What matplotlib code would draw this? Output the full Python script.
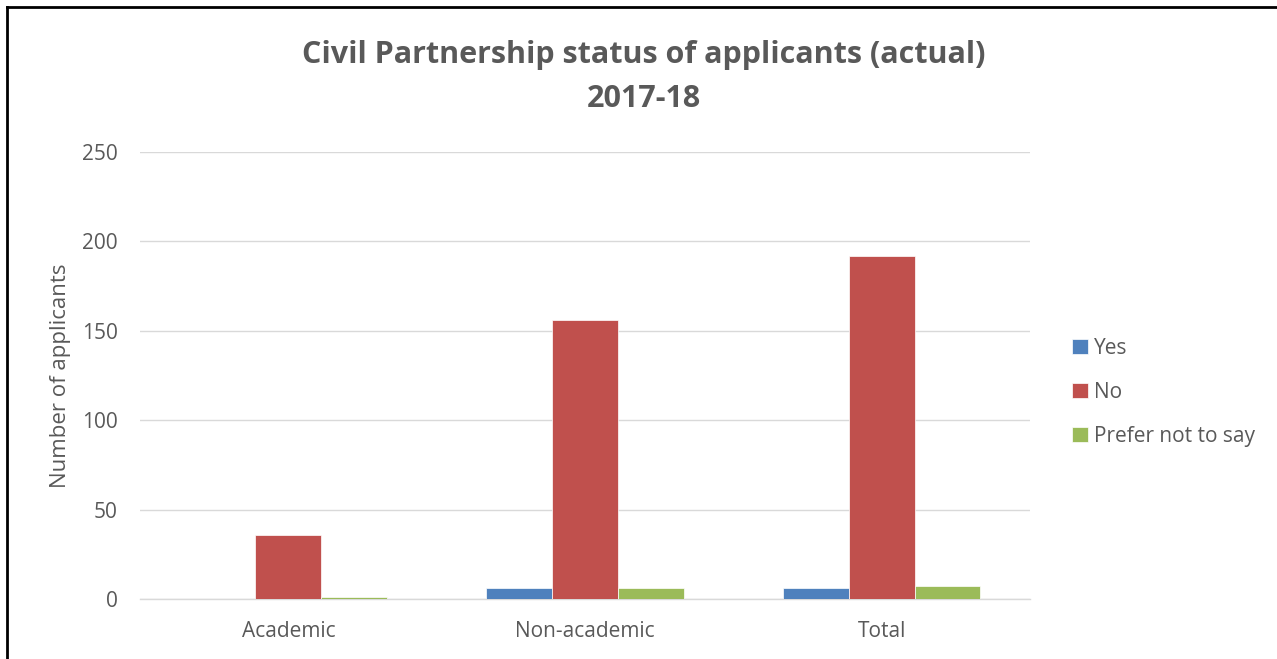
import numpy as np
import matplotlib.pyplot as plt
from matplotlib.lines import Line2D

# applicant counts by staff group
groups = ["Academic", "Non-academic", "Total"]
yes = [0, 6, 6]
no = [36, 156, 192]
prefer_not = [1, 6, 7]

series = ["Yes", "No", "Prefer not to say"]
colours = ["#4F81BD", "#C0504D", "#9BBB59"]
grey = "#595959"

plt.rcParams['font.family'] = ['Open Sans', 'DejaVu Sans']

fig = plt.figure(figsize=(12.77, 6.59), dpi=100)
ax = fig.add_axes([140 / 1277, 1 - 599 / 659, 890 / 1277, 447 / 659])

x = np.arange(len(groups))
w = 0.222
for i, (vals, name, c) in enumerate(zip([yes, no, prefer_not], series, colours)):
    ax.bar(x + (i - 1) * w, vals, width=w, color=c, edgecolor="white", linewidth=0.5, label=name, zorder=3)

ax.set_xlim(-0.5, 2.5)
ax.set_ylim(0, 250)
ax.set_yticks(np.arange(0, 251, 50))
ax.set_xticks(x)
ax.set_xticklabels(groups)
ax.yaxis.grid(True, color="#D9D9D9", linewidth=1, zorder=0)
for s in ["top", "right", "left"]:
    ax.spines[s].set_visible(False)
ax.spines["bottom"].set_color("#D9D9D9")
ax.spines["bottom"].set_linewidth(1)
ax.tick_params(axis="both", length=0, labelsize=15, colors=grey)
ax.tick_params(axis="x", pad=16)
ax.tick_params(axis="y", pad=16)
ax.set_ylabel("Number of applicants", fontsize=16, color=grey, labelpad=8)

fig.text(644 / 1277, 1 - 77 / 659, "Civil Partnership status of applicants (actual)\n2017-18",
         ha="center", va="center", fontsize=22, fontweight="bold", color=grey, linespacing=1.6)

ax.legend(loc="center left", bbox_to_anchor=(1.026, 0.462), frameon=False, fontsize=15,
          labelcolor=grey, handlelength=0.75, handleheight=0.75, handletextpad=0.3, labelspacing=1.1)

# outer frame, top and left edges only
fig.add_artist(Line2D([7 / 1277, 1], [1 - 7 / 659, 1 - 7 / 659], color="black", linewidth=2))
fig.add_artist(Line2D([7 / 1277, 7 / 1277], [0, 1 - 7 / 659], color="black", linewidth=2))

fig.savefig("out.png", dpi=100)
